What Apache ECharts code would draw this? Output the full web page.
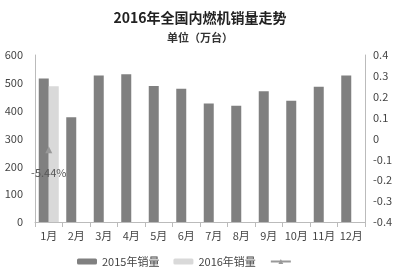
<!DOCTYPE html>
<html><head><meta charset="utf-8">
<script src="https://cdn.jsdelivr.net/npm/echarts@6/dist/echarts.min.js"></script>
<style>html,body{margin:0;padding:0;background:#fff}#c{width:400px;height:276px}</style>
</head><body><div id="c"></div>
<script>
var categories = ['1月','2月','3月','4月','5月','6月','7月','8月','9月','10月','11月','12月'];
var sales2015 = [516,376,526,531,489,479,426,418,470,436,486,526];
var sales2016 = [488,null,null,null,null,null,null,null,null,null,null,null];
var growth = [-0.0544,null,null,null,null,null,null,null,null,null,null,null];
var growthLabels = ['-5.44%'];
var leftTicks = {min:0, max:600, interval:100};
var rightTicks = {min:-0.4, max:0.4, interval:0.1};

var font = '"Noto Sans CJK SC", sans-serif';
var chart = echarts.init(document.getElementById('c'));
chart.setOption({
  animation:false,
  backgroundColor:'#fff',
  title:[{text:'2016年全国内燃机销量走势', left:'center', top:6,
          textStyle:{fontSize:14,fontWeight:'bold',color:'#222',fontFamily:font}},
         {text:'单位（万台）', left:'center', top:27,
          textStyle:{fontSize:11,fontWeight:'bold',color:'#333',fontFamily:font}}],
  legend:{bottom:4, left:72, itemWidth:20, itemHeight:6, itemGap:14,
          textStyle:{fontSize:11,color:'#444',fontFamily:font},
          data:['2015年销量','2016年销量',' ']},
  grid:{left:35, right:35, top:55, bottom:54},
  xAxis:{type:'category', data:categories,
         axisLine:{lineStyle:{color:'#bbb'}}, axisTick:{show:true,lineStyle:{color:'#bbb'}},
         axisLabel:{fontSize:11,color:'#444',fontFamily:font,interval:0,margin:8}},
  yAxis:[{type:'value', min:leftTicks.min, max:leftTicks.max, interval:leftTicks.interval,
          axisLine:{show:true,lineStyle:{color:'#bbb'}}, axisTick:{show:false},
          splitLine:{show:false},
          axisLabel:{fontSize:11,color:'#444',fontFamily:font,margin:12}},
         {type:'value', min:rightTicks.min, max:rightTicks.max, interval:rightTicks.interval,
          axisLine:{show:true,lineStyle:{color:'#bbb'}}, axisTick:{show:false},
          splitLine:{show:false},
          axisLabel:{fontSize:11,color:'#444',fontFamily:font,margin:8,
            formatter:function(v){var s=(Math.round(v*10)/10).toFixed(1); return s==='0.0'||s==='-0.0'?'0':s;}}}],
  series:[
    {name:'2015年销量', type:'bar', data:sales2015, barWidth:10, barGap:'0%',
     itemStyle:{color:'#808080'}},
    {name:'2016年销量', type:'bar', data:sales2016, barWidth:10,
     itemStyle:{color:'#d9d9d9'}},
    {name:' ', type:'line', yAxisIndex:1, data:growth, symbol:'triangle', symbolSize:7,
     itemStyle:{color:'#999'}, lineStyle:{color:'#999',width:1.5},
     label:{show:true, position:'bottom', distance:14, fontSize:11, color:'#555', fontFamily:font,
            formatter:function(p){return growthLabels[p.dataIndex]||'';}}}
  ]
});
</script></body></html>
